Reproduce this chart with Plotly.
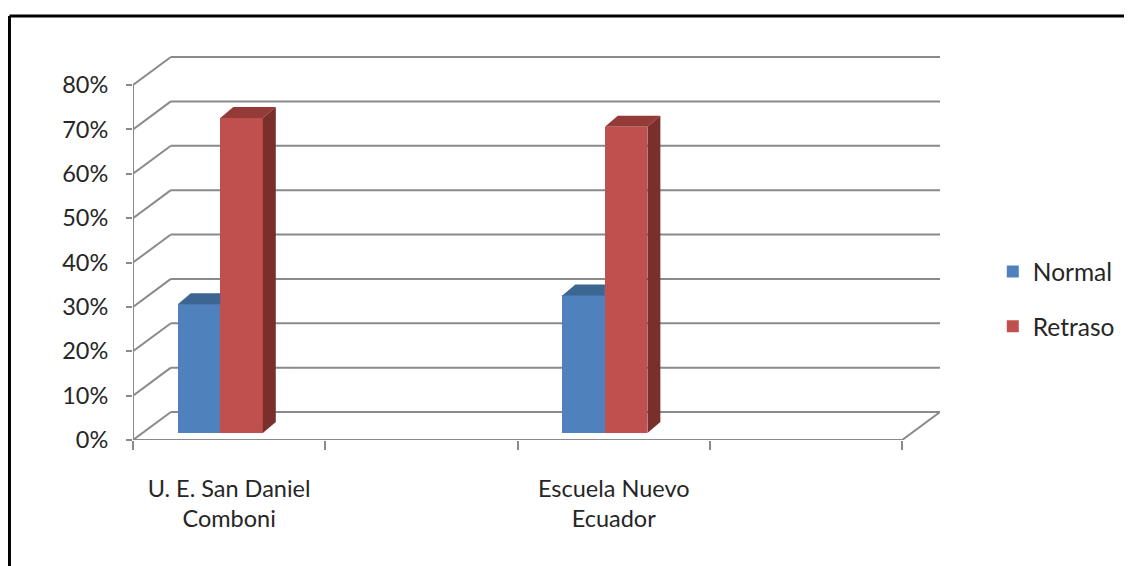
import plotly.graph_objects as go

# ---------------- data ----------------
categories = ["U. E. San Daniel<br>Comboni", "", "Escuela Nuevo<br>Ecuador", ""]
series_names = ["Normal", "Retraso"]
normal = [29, None, 31, None]
retraso = [71, None, 69, None]
y_ticks = [0, 10, 20, 30, 40, 50, 60, 70, 80]
y_tick_labels = [f"{v}%" for v in y_ticks]

# ---------------- styling / geometry constants ----------------
FONT = "Lato"
TXT = "#262626"
GRID = "#8a8a8a"
FRONT = {"Normal": "#4F81BD", "Retraso": "#C0504D"}
TOP = {"Normal": "#3D6592", "Retraso": "#943B38"}
SIDE = {"Normal": "#2F4F75", "Retraso": "#7A2F2D"}

PX_X = 193.0          # px per category slot
PX_Y = 4.4375         # px per percent
BX = 38 / PX_X        # back-wall depth offset (x)
BY = 28 / PX_Y        # back-wall depth offset (y)
BAR_W = 42.7 / PX_X
BAR_OFF = [-0.267, -0.046]   # left edge of each series' front face relative to slot centre
BASE = 7 / PX_Y              # bar front-face floor height
DX = 13 / PX_X               # bar depth
DY = 11 / PX_Y
NSLOT = len(categories)

OFF = 8  # page body margin
W, H = 1132 - OFF, 566 - OFF
L, R_EDGE, T_EDGE, B_EDGE = 133 - OFF, 943 - OFF, 55 - OFF, 440 - OFF
PW, PH = R_EDGE - L, B_EDGE - T_EDGE

fig = go.Figure()

series_vals = [normal, retraso]
for s, name in enumerate(series_names):
    xs, ys = [], []
    for i, v in enumerate(series_vals[s]):
        if v is None:
            continue
        xs.append(i + 0.5 + BAR_OFF[s] + BAR_W / 2)
        ys.append(v)
    fig.add_trace(go.Bar(
        x=xs, y=ys, base=BASE, width=BAR_W, name=name,
        marker=dict(color=FRONT[name], line=dict(width=0)),
        legendgroup=name, hoverinfo="skip",
    ))

for i in range(NSLOT):
    for s, name in enumerate(series_names):
        v = series_vals[s][i]
        if v is None:
            continue
        xl = i + 0.5 + BAR_OFF[s]
        xr = xl + BAR_W
        top = BASE + v
        other = series_vals[1 - s][i]
        if s == 0 and other is not None and other >= v:
            px = [xl, xr, xr, xl + DX, xl]
        else:
            px = [xl, xr, xr + DX, xl + DX, xl]
        py = [top, top, top + DY, top + DY, top]
        fig.add_trace(go.Scatter(x=px, y=py, fill="toself", mode="lines",
                                 line=dict(width=0, color=TOP[name]),
                                 fillcolor=TOP[name], showlegend=False, hoverinfo="skip"))
        if s == len(series_names) - 1:
            sx = [xr, xr + DX, xr + DX, xr, xr]
            sy = [BASE, BASE + DY, top + DY, top, BASE]
            fig.add_trace(go.Scatter(x=sx, y=sy, fill="toself", mode="lines",
                                     line=dict(width=0, color=SIDE[name]),
                                     fillcolor=SIDE[name], showlegend=False, hoverinfo="skip"))

shapes = []
ln = dict(color=GRID, width=2)
for v in y_ticks:
    shapes.append(dict(type="line", xref="x", yref="y", x0=0, y0=v, x1=BX, y1=v + BY, line=ln, layer="below"))
    shapes.append(dict(type="line", xref="x", yref="y", x0=BX, y0=v + BY, x1=NSLOT + BX, y1=v + BY, line=ln, layer="below"))
shapes.append(dict(type="line", xref="x", yref="y", x0=NSLOT, y0=0, x1=NSLOT + BX, y1=BY, line=ln, layer="below"))
shapes.append(dict(type="line", xref="x", yref="y", x0=0, y0=0, x1=NSLOT, y1=0, line=ln, layer="below"))
shapes.append(dict(type="line", xref="x", yref="y", x0=0, y0=0, x1=0, y1=y_ticks[-1], line=ln, layer="below"))

# outer frame (top and left edges visible)
fx = (1 - L) / PW
fy_top = 1 + (T_EDGE - (16 - OFF)) / PH
shapes.append(dict(type="line", xref="paper", yref="paper",
                   x0=fx, y0=fy_top, x1=(W - L) / PW, y1=fy_top,
                   line=dict(color="black", width=3)))
shapes.append(dict(type="line", xref="paper", yref="paper",
                   x0=fx, y0=fy_top, x1=fx, y1=-(H - B_EDGE) / PH,
                   line=dict(color="black", width=3)))

fig.update_layout(
    width=W, height=H,
    margin=dict(l=L, r=W - R_EDGE, t=T_EDGE, b=H - B_EDGE, pad=0),
    paper_bgcolor="white", plot_bgcolor="white",
    barmode="overlay", bargap=0,
    font=dict(family=FONT, size=23.5, color=TXT),
    shapes=shapes,
    showlegend=True,
    legend=dict(x=(996 - OFF - L) / PW, y=(B_EDGE - (249 - OFF)) / PH,
                xanchor="left", yanchor="top", traceorder="grouped",
                tracegroupgap=20, font=dict(family=FONT, size=24.5, color=TXT),
                bgcolor="rgba(0,0,0,0)"),
    xaxis=dict(range=[0, NSLOT + BX], showgrid=False, zeroline=False, showline=False,
               tickmode="array", tickvals=[i + 0.5 for i in range(NSLOT)], ticktext=categories,
               ticks="", ticklabelstandoff=32,
               minor=dict(ticks="outside", dtick=1, tick0=0, ticklen=9, tickwidth=2,
                          tickcolor=GRID, showgrid=False),
               fixedrange=True),
    yaxis=dict(range=[0, PH / PX_Y], showgrid=False, zeroline=False, showline=False,
               tickmode="array", tickvals=y_ticks, ticktext=y_tick_labels,
               ticks="outside", ticklen=6, tickwidth=2, tickcolor=GRID,
               ticklabelstandoff=13, fixedrange=True),
)

fig.write_html("out.html")
